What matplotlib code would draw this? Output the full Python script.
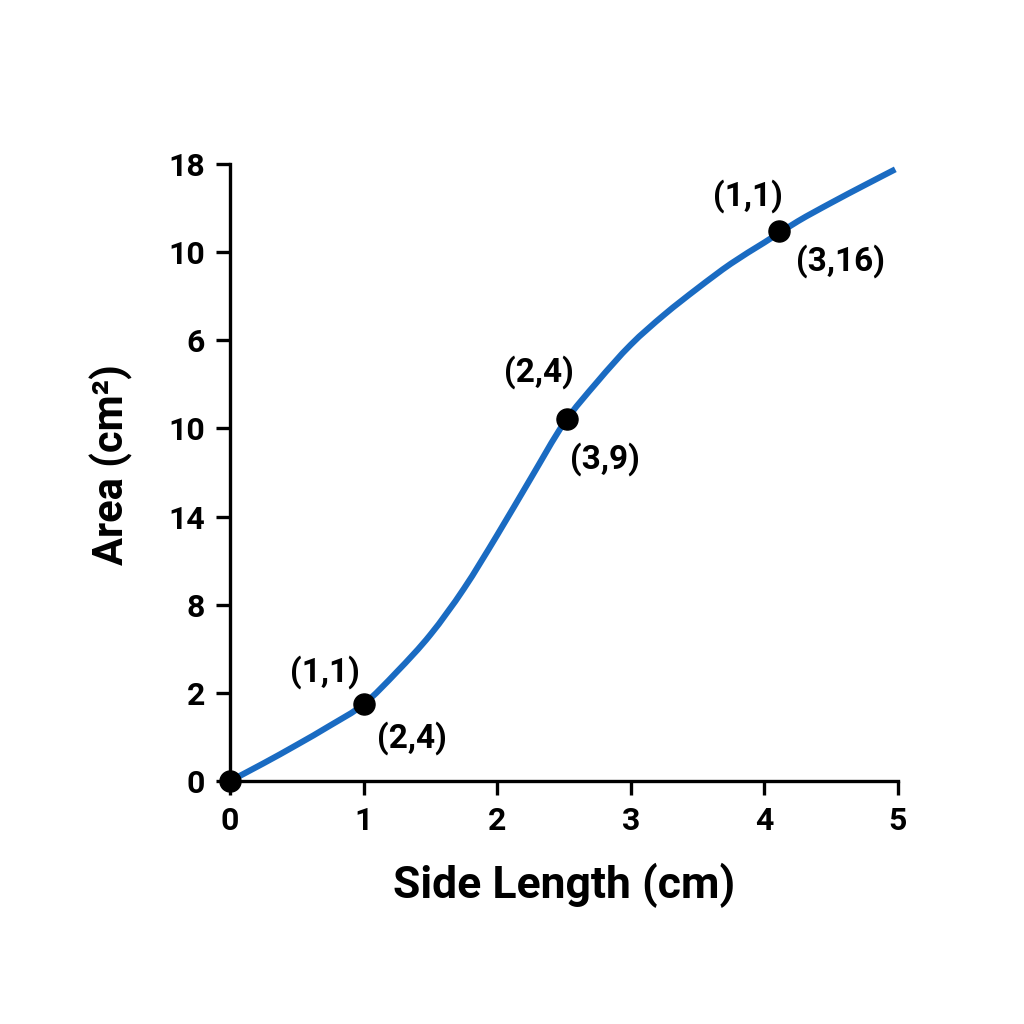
import matplotlib
matplotlib.use("Agg")
import matplotlib.pyplot as plt
from matplotlib.path import Path
from matplotlib.patches import PathPatch

plt.rcParams['font.family'] = ['Roboto', 'DejaVu Sans']
plt.rcParams['font.weight'] = 'bold'

# curve (y in tick-slot units)
side = [0.0, 0.25, 0.5, 0.75, 1.0, 1.25, 1.5, 1.75, 2.0, 2.25, 2.5,
        2.75, 3.0, 3.25, 3.5, 3.75, 4.0, 4.25, 4.5, 4.75, 4.98]
area = [0.0, 0.2, 0.41, 0.63, 0.87, 1.24, 1.66, 2.18, 2.79, 3.43, 4.06,
        4.53, 4.95, 5.29, 5.59, 5.87, 6.11, 6.35, 6.56, 6.76, 6.94]

# marked points
pt_x = [0.0, 1.0, 2.52, 4.11]
pt_y = [0.0, 0.87, 4.11, 6.24]

# odd y tick labels as shown in the chart
ytick_labels = ['0', '2', '8', '14', '10', '6', '10', '18']
xtick_labels = ['0', '1', '2', '3', '4', '5']

# point annotations: text, x, y
ann_text = ['(1,1)', '(2,4)', '(2,4)', '(3,9)', '(1,1)', '(3,16)']
ann_x = [0.71, 1.36, 2.31, 2.81, 3.88, 4.57]
ann_y = [1.24, 0.49, 4.64, 3.65, 6.64, 5.90]


def smooth_path(xs, ys):
    """Catmull-Rom through the points, handed to matplotlib as cubic Beziers."""
    verts = [(xs[0], ys[0])]
    codes = [Path.MOVETO]
    n = len(xs)
    for i in range(n - 1):
        x0, y0 = (xs[i - 1], ys[i - 1]) if i > 0 else (xs[i], ys[i])
        x1, y1 = xs[i], ys[i]
        x2, y2 = xs[i + 1], ys[i + 1]
        x3, y3 = (xs[i + 2], ys[i + 2]) if i + 2 < n else (x2, y2)
        verts += [(x1 + (x2 - x0) / 6, y1 + (y2 - y0) / 6),
                  (x2 - (x3 - x1) / 6, y2 - (y3 - y1) / 6),
                  (x2, y2)]
        codes += [Path.CURVE4] * 3
    return Path(verts, codes)


fig = plt.figure(figsize=(10.24, 10.24), dpi=100)
ax = fig.add_axes([0.2246, 0.2373, 0.6523, 0.6025])

ax.add_patch(PathPatch(smooth_path(side, area), facecolor='none',
                       edgecolor='#1a6bc2', lw=4.4, capstyle='butt', zorder=3))
ax.scatter(pt_x, pt_y, s=230, color='black', zorder=5, clip_on=False)

for t, x, y in zip(ann_text, ann_x, ann_y):
    ax.text(x, y, t, ha='center', va='center', fontsize=24, fontweight='bold')

ax.set_xlim(0, 5)
ax.set_ylim(0, 7)
ax.set_xticks(range(len(xtick_labels)))
ax.set_xticklabels(xtick_labels)
ax.set_yticks(range(len(ytick_labels)))
ax.set_yticklabels(ytick_labels)

for s in ['top', 'right']:
    ax.spines[s].set_visible(False)
for s in ['left', 'bottom']:
    ax.spines[s].set_linewidth(2.4)
ax.tick_params(axis='both', length=10, width=2.4, labelsize=23, pad=8)
for lab in ax.get_xticklabels() + ax.get_yticklabels():
    lab.set_fontweight('bold')

ax.set_xlabel('Side Length (cm)', fontsize=32, fontweight='bold', va='center')
ax.set_ylabel('Area (cm²)', fontsize=30, fontweight='bold', va='center')
ax.xaxis.set_label_coords(0.50, -0.169)
ax.yaxis.set_label_coords(-0.177, 0.512)

fig.savefig('out.png', dpi=100, facecolor='white')
